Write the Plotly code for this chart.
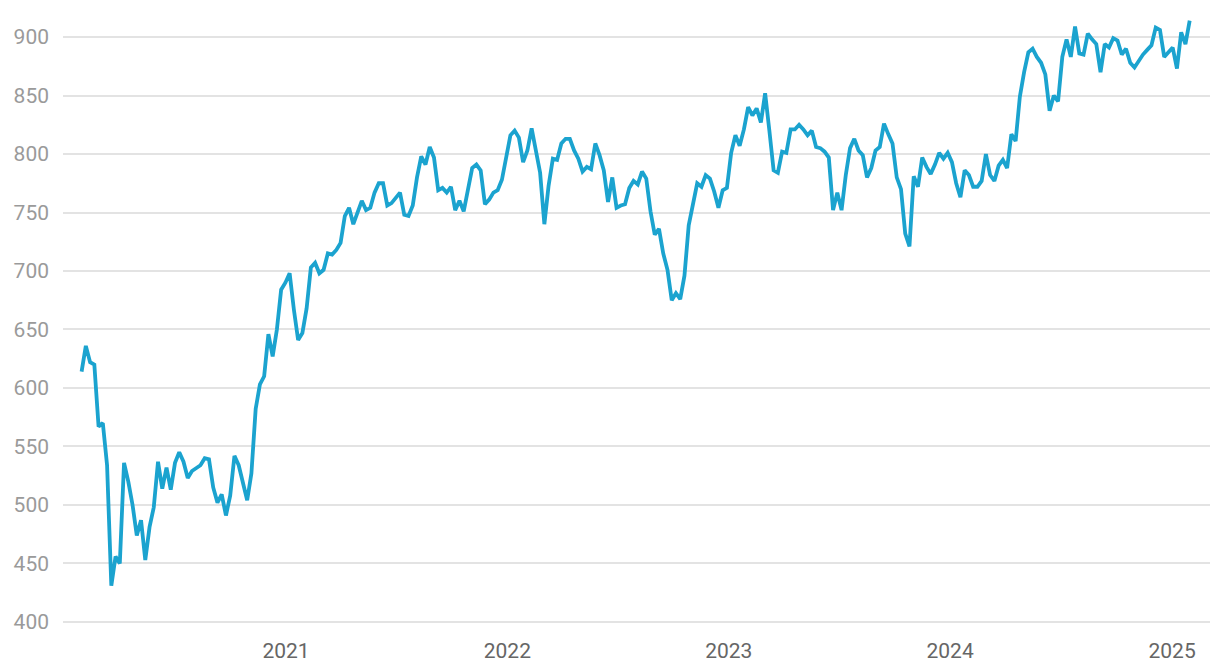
import pandas as pd
import plotly.graph_objects as go

start_date = "2020-01-30"
values = [
    614, 636, 622, 620, 567, 570, 534, 431, 456, 450,
    536, 520, 500, 474, 487, 453, 481, 498, 537, 514,
    532, 513, 536, 545, 537, 523, 529, 532, 534, 540,
    539, 515, 502, 509, 491, 508, 542, 534, 519, 504,
    527, 582, 603, 610, 646, 627, 650, 684, 690, 698,
    667, 641, 647, 668, 703, 707, 698, 701, 715, 714,
    718, 724, 747, 754, 740, 749, 760, 752, 754, 767,
    775, 775, 756, 758, 763, 767, 748, 747, 756, 780,
    798, 791, 806, 797, 769, 771, 767, 772, 752, 760,
    751, 770, 788, 791, 786, 757, 761, 767, 769, 778,
    799, 816, 820, 814, 793, 803, 822, 801, 784, 740,
    773, 796, 795, 809, 813, 813, 803, 796, 785, 789,
    787, 809, 799, 786, 759, 780, 754, 756, 757, 771,
    777, 774, 785, 779, 751, 731, 736, 715, 701, 675,
    681, 676, 696, 739, 756, 775, 772, 782, 779, 768,
    754, 769, 771, 801, 816, 807, 821, 840, 833, 839,
    827, 852, 820, 786, 784, 802, 801, 821, 821, 825,
    821, 816, 820, 806, 805, 802, 797, 752, 767, 752,
    782, 805, 813, 803, 799, 780, 788, 803, 806, 826,
    817, 809, 780, 770, 732, 721, 781, 772, 797, 789,
    783, 791, 801, 796, 801, 793, 775, 763, 786, 782,
    772, 772, 777, 800, 782, 777, 790, 795, 788, 817,
    811, 849, 870, 887, 890, 883, 878, 868, 837, 850,
    845, 883, 898, 883, 909, 886, 885, 903, 898, 894,
    870, 894, 891, 899, 897, 885, 890, 878, 874, 880,
    885, 889, 893, 908, 906, 883, 887, 891, 873, 904,
    894, 914,
]
dates = pd.date_range(start_date, periods=len(values), freq="7D")

y_ticks = [400, 450, 500, 550, 600, 650, 700, 750, 800, 850, 900]
x_ticks = ["2021-01-01", "2022-01-01", "2023-01-01", "2024-01-01", "2025-01-01"]
x_labels = ["2021", "2022", "2023", "2024", "2025"]

fig = go.Figure(
    go.Scatter(
        x=dates, y=values, mode="lines",
        line=dict(color="#1ba3cf", width=3.8),
        hoverinfo="x+y",
    )
)
fig.update_layout(
    width=1220, height=672,
    margin=dict(l=55, r=18, t=2, b=57),
    paper_bgcolor="white", plot_bgcolor="white",
    showlegend=False,
    font=dict(family="Roboto, sans-serif"),
)
fig.update_xaxes(
    range=["2019-12-30 08:00", "2025-03-04 12:00"],
    tickvals=x_ticks, ticktext=x_labels,
    showgrid=False, zeroline=False, showline=False,
    tickfont=dict(size=21, color="#666666"),
    ticks="", ticklen=0, automargin=False, ticklabelstandoff=13,
)
fig.update_yaxes(
    range=[399.1, 923.1],
    tickvals=y_ticks,
    showgrid=True, gridcolor="#e3e3e3", gridwidth=1.5,
    zeroline=False, showline=False,
    tickfont=dict(size=21, color="#9a9a9a"),
    ticks="", ticklabelstandoff=13, automargin=False,
)
fig.write_html("out.html")
